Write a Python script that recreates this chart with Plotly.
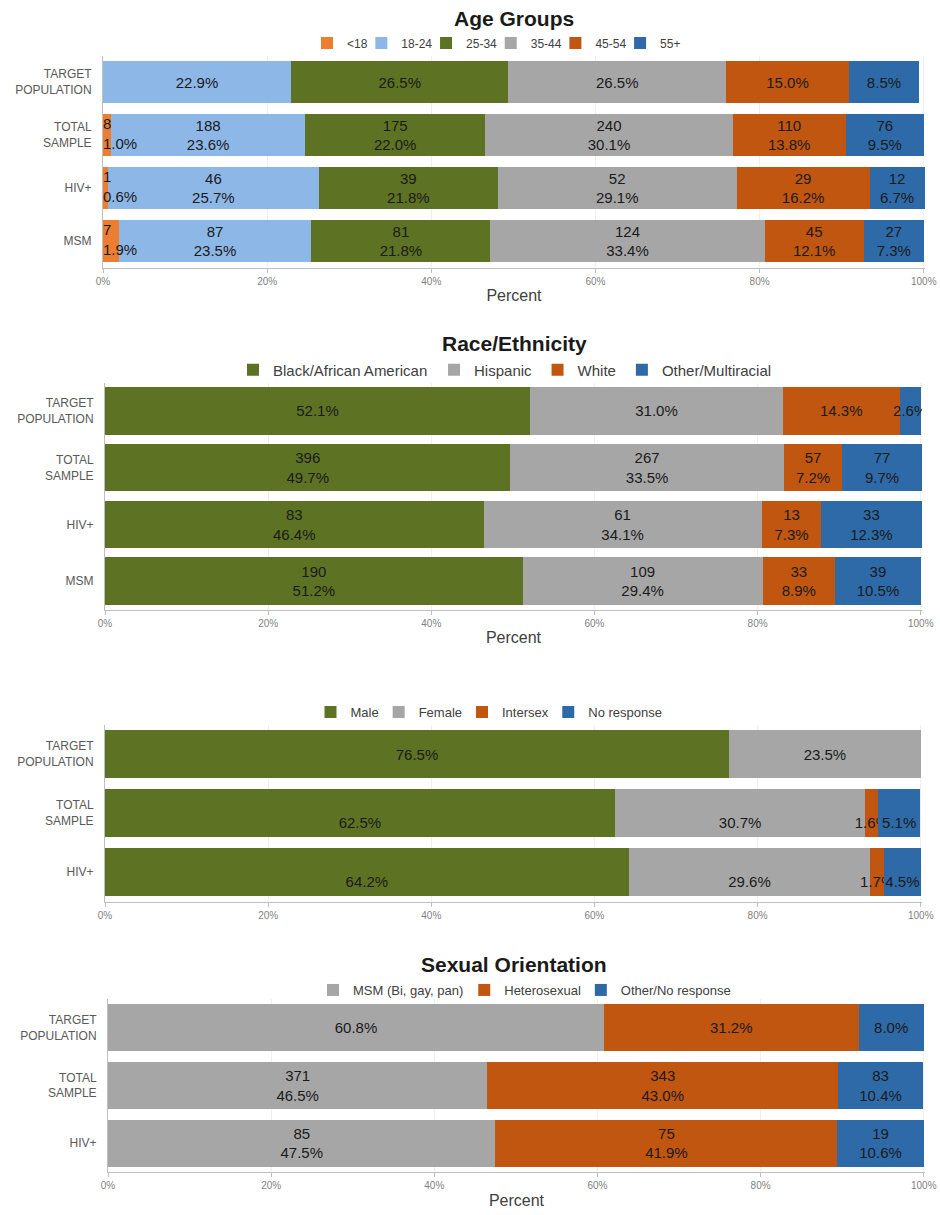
import plotly.graph_objects as go

# ---------------- data ----------------
rows4 = ["TARGET<br>POPULATION", "TOTAL<br>SAMPLE", "HIV+", "MSM"]
rows3 = ["TARGET<br>POPULATION", "TOTAL<br>SAMPLE", "HIV+"]

age_groups = ["<18", "18-24", "25-34", "35-44", "45-54", "55+"]
age_target_pct = [0, 22.9, 26.5, 26.5, 15.0, 8.5]
age_target_n = [None, None, None, None, None, None]
age_total_pct = [1.0, 23.6, 22.0, 30.1, 13.8, 9.5]
age_total_n = [8, 188, 175, 240, 110, 76]
age_hiv_pct = [0.6, 25.7, 21.8, 29.1, 16.2, 6.7]
age_hiv_n = [1, 46, 39, 52, 29, 12]
age_msm_pct = [1.9, 23.5, 21.8, 33.4, 12.1, 7.3]
age_msm_n = [7, 87, 81, 124, 45, 27]

race_groups = ["Black/African American", "Hispanic", "White", "Other/Multiracial"]
race_target_pct = [52.1, 31.0, 14.3, 2.6]
race_target_n = [None, None, None, None]
race_total_pct = [49.7, 33.5, 7.2, 9.7]
race_total_n = [396, 267, 57, 77]
race_hiv_pct = [46.4, 34.1, 7.3, 12.3]
race_hiv_n = [83, 61, 13, 33]
race_msm_pct = [51.2, 29.4, 8.9, 10.5]
race_msm_n = [190, 109, 33, 39]

sex_groups = ["Male", "Female", "Intersex", "No response"]
sex_target_pct = [76.5, 23.5, 0, 0]
sex_total_pct = [62.5, 30.7, 1.6, 5.1]
sex_hiv_pct = [64.2, 29.6, 1.7, 4.5]

orient_groups = ["MSM (Bi, gay, pan)", "Heterosexual", "Other/No response"]
orient_target_pct = [60.8, 31.2, 8.0]
orient_target_n = [None, None, None]
orient_total_pct = [46.5, 43.0, 10.4]
orient_total_n = [371, 343, 83]
orient_hiv_pct = [47.5, 41.9, 10.6]
orient_hiv_n = [85, 75, 19]

x_ticks = [0, 20, 40, 60, 80, 100]

# ---------------- style ----------------
FONT = "Liberation Sans, Arial, sans-serif"
C_LT18 = "#ED7D31"
C_1824 = "#8DB7E6"
C_OLIVE = "#5E7223"
C_GRAY = "#A6A6A6"
C_DORANGE = "#C0560F"
C_BLUE = "#2E6AA8"
TXT = "#1a1a1a"
BAR_FS = 15
X_MAX = 100.15  # rows rounded to 100.1% still fit inside the axis

age_colors = [C_LT18, C_1824, C_OLIVE, C_GRAY, C_DORANGE, C_BLUE]
race_colors = [C_OLIVE, C_GRAY, C_DORANGE, C_BLUE]
sex_colors = [C_OLIVE, C_GRAY, C_DORANGE, C_BLUE]
orient_colors = [C_GRAY, C_DORANGE, C_BLUE]

# approximate Arial/Liberation Sans advance widths (em units) for legend sizing
_CW = {" ": .278, "/": .278, "(": .333, ")": .333, ",": .278, "-": .333,
       "<": .584, "+": .584, "f": .278, "i": .222, "l": .222, "j": .222,
       "t": .278, "r": .333, "m": .833, "w": .722, "c": .5, "k": .5,
       "s": .5, "v": .5, "x": .5, "y": .5, "z": .5, "I": .278, "M": .833,
       "W": .944, "O": .778, "B": .667, "A": .667, "F": .611, "H": .722,
       "N": .722, "S": .667}


def text_w(s, fs):
    return sum(_CW.get(ch, .556) for ch in s) * fs


fig = go.Figure()


def label(p, n, lower=False):
    if p == 0:
        return ""
    if n is not None:
        return f"{n}<br>{p:.1f}%"
    if lower:
        return f"\u00a0<br>{p:.1f}%"
    return f"{p:.1f}%"


def add_panel(rows, groups, colors, pct_rows, n_rows, xa, ya, leg, width,
              leg_fs, leg_gap, lower_rows=(), outside_first=False):
    for j, (g, c) in enumerate(zip(groups, colors)):
        xs = [pr[j] for pr in pct_rows]
        texts = [label(pr[j], nr[j] if nr else None, i in lower_rows)
                 for i, (pr, nr) in enumerate(zip(pct_rows, n_rows))]
        side = outside_first and j == 0
        last = j == len(groups) - 1
        lw = text_w(g, leg_fs) + (4 if last else leg_gap)
        fig.add_trace(go.Bar(
            orientation="h", x=xs, y=rows, name=g, marker_color=c,
            marker_line_width=0, width=width, xaxis=xa, yaxis=ya, legend=leg,
            legendwidth=max(1, lw),
            text=None if side else texts, textposition="inside",
            insidetextanchor="middle", textangle=0, constraintext="none",
            textfont=dict(size=BAR_FS, color=TXT, family=FONT),
            hoverinfo="skip"))
        if side:
            fig.add_trace(go.Scatter(
                x=[0] * len(rows), y=rows, mode="text", text=texts,
                textposition="middle right", xaxis=xa, yaxis=ya,
                textfont=dict(size=BAR_FS, color=TXT, family=FONT),
                showlegend=False, hoverinfo="skip", cliponaxis=False))


AGE_LFS, RACE_LFS, SEX_LFS, ORI_LFS = 12, 15, 13, 13

add_panel(rows4, age_groups, age_colors,
          [age_target_pct, age_total_pct, age_hiv_pct, age_msm_pct],
          [age_target_n, age_total_n, age_hiv_n, age_msm_n],
          "x", "y", "legend", 0.8, AGE_LFS, -11, outside_first=True)
add_panel(rows4, race_groups, race_colors,
          [race_target_pct, race_total_pct, race_hiv_pct, race_msm_pct],
          [race_target_n, race_total_n, race_hiv_n, race_msm_n],
          "x2", "y2", "legend2", 0.84, RACE_LFS, 1)
add_panel(rows3, sex_groups, sex_colors,
          [sex_target_pct, sex_total_pct, sex_hiv_pct],
          [None, None, None],
          "x3", "y3", "legend3", 0.82, SEX_LFS, -5, lower_rows=(1, 2))
add_panel(rows3, orient_groups, orient_colors,
          [orient_target_pct, orient_total_pct, orient_hiv_pct],
          [orient_target_n, orient_total_n, orient_hiv_n],
          "x4", "y4", "legend4", 0.82, ORI_LFS, -5)

H = 1215.0
W = 940.0


def ydom(top, bot):
    return [1 - bot / H, 1 - top / H]


def xdom(l, r):
    return [l / W, r / W]


def xaxis(dom, anchor, title):
    return dict(domain=dom, anchor=anchor, range=[0, X_MAX], tickvals=x_ticks,
                ticktext=[f"{v}%" for v in x_ticks], showgrid=True,
                gridcolor="#EFEFEF", gridwidth=1, automargin=False,
                zeroline=False, showline=True, linecolor="#BFBFBF",
                linewidth=1, ticks="outside", ticklen=4, tickcolor="#BFBFBF",
                tickfont=dict(size=10, color="#7f7f7f", family=FONT),
                title=dict(text=title, standoff=4,
                           font=dict(size=16, color="#404040", family=FONT)),
                fixedrange=True)


def yaxis(dom, anchor):
    return dict(domain=dom, anchor=anchor, autorange="reversed",
                showgrid=False, zeroline=False, showline=True,
                automargin=False,
                linecolor="#BFBFBF", ticks="", ticklabelstandoff=8,
                tickfont=dict(size=12, color="#595959", family=FONT),
                fixedrange=True)


def legend(xc, yc, fs):
    return dict(orientation="h", x=xc, y=yc, xanchor="center",
                yanchor="middle", itemwidth=30, bgcolor="rgba(0,0,0,0)",
                font=dict(size=fs, color="#404040", family=FONT),
                traceorder="normal", itemclick=False, itemdoubleclick=False)


def title(text, ypx):
    return dict(text=f"<b>{text}</b>", x=514 / W, y=1 - ypx / H,
                xref="paper", yref="paper", xanchor="center",
                yanchor="middle", showarrow=False,
                font=dict(size=21, color="#1a1a1a", family=FONT))


fig.update_layout(
    width=940, height=1215, margin=dict(l=0, r=0, t=0, b=0, autoexpand=False),
    autosize=False,
    paper_bgcolor="white", plot_bgcolor="white", barmode="stack",
    font=dict(family=FONT),
    uniformtext=dict(minsize=BAR_FS, mode="show"),
    xaxis=xaxis(xdom(103, 925), "y", "Percent"),
    yaxis=yaxis(ydom(55.5, 267.5), "x"),
    xaxis2=xaxis(xdom(105, 922), "y2", "Percent"),
    yaxis2=yaxis(ydom(382.5, 609.5), "x2"),
    xaxis3=xaxis(xdom(105, 922), "y3", ""),
    yaxis3=yaxis(ydom(724.5, 901.5), "x3"),
    xaxis4=xaxis(xdom(108, 925), "y4", "Percent"),
    yaxis4=yaxis(ydom(999, 1172), "x4"),
    legend=legend(498.5 / W, 1 - 43 / H, AGE_LFS),
    legend2=legend(507 / W, 1 - 370 / H, RACE_LFS),
    legend3=legend(491 / W, 1 - 712 / H, SEX_LFS),
    legend4=legend(526.5 / W, 1 - 990 / H, ORI_LFS),
    annotations=[
        title("Age Groups", 18),
        title("Race/Ethnicity", 343),
        title("Sexual Orientation", 964),
    ],
)

fig.write_html("out.html", config={"displayModeBar": False, "responsive": False},
               post_script="document.body.style.margin='0';"
                           "document.body.style.overflow='hidden';")
